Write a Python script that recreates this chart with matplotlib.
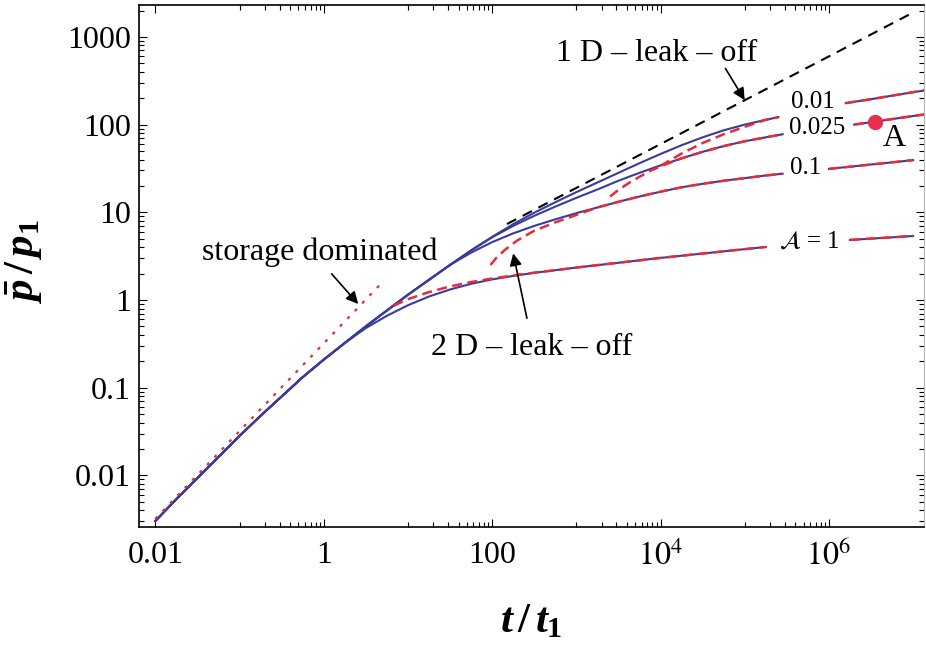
import numpy as np
import matplotlib
matplotlib.use("Agg")
import matplotlib.pyplot as plt
from matplotlib.ticker import FixedLocator, LogLocator, NullFormatter

plt.rcParams['font.family'] = ['Liberation Serif', 'DejaVu Serif']
plt.rcParams['mathtext.fontset'] = 'stix'
# bold serif for the axis titles (drawn with math_fontfamily='custom')
plt.rcParams['mathtext.rm'] = 'Liberation Serif:bold'
plt.rcParams['mathtext.it'] = 'Liberation Serif:italic:bold'
plt.rcParams['mathtext.bf'] = 'Liberation Serif:bold'

nan = np.nan

# log10(t/t1), log10(p/p1) of the full solution for each leak-off parameter A
# (nan leaves the break where the curve label sits)
lt_early = [-2.0, -1.75, -1.5, -1.25, -1.0, -0.75, -0.5, -0.25, 0.0, 0.25]
lp_early = [-2.52, -2.27, -2.03, -1.79, -1.55, -1.32, -1.10, -0.88, -0.68, -0.49]
lt_mid = [0.5, 0.75, 1.0, 1.25, 1.5]
lp_mid = [-0.30, -0.12, 0.06, 0.23, 0.40]

lt_a001 = lt_early + lt_mid + [1.75, 2.0, 2.25, 2.5, 2.75, 3.0, 3.25, 3.5, 3.75, 4.0, 4.25, 4.5, 4.75, 5.0, 5.25, 5.4,
                               5.8, 6.2, 6.5, 6.75, 7.0, 7.25]
lp_a001 = lp_early + lp_mid + [0.565, 0.72, 0.865, 0.995, 1.115, 1.23, 1.34, 1.45, 1.56, 1.665, 1.765, 1.855, 1.935, 2.0, 2.055, 2.085,
                               nan, 2.245, 2.29, 2.33, 2.37, 2.405]

lt_a0025 = lt_early + lt_mid + [1.75, 2.0, 2.25, 2.5, 2.75, 3.0, 3.25, 3.5, 3.75, 4.0, 4.25, 4.5, 4.75, 5.0, 5.25, 5.45,
                                5.9, 6.3, 6.55, 6.8, 7.05, 7.25]
lp_a0025 = lp_early + lp_mid + [0.565, 0.715, 0.845, 0.96, 1.065, 1.165, 1.26, 1.36, 1.45, 1.535, 1.615, 1.69, 1.755, 1.81, 1.855, 1.89,
                                nan, 2.0, 2.035, 2.07, 2.105, 2.13]

lt_a01 = lt_early + lt_mid + [1.75, 2.0, 2.25, 2.5, 2.75, 3.0, 3.25, 3.5, 3.75, 4.0, 4.25, 4.5, 4.75, 5.0, 5.25, 5.45,
                              5.7, 6.0, 6.25, 6.5, 6.75, 7.0]
lp_a01 = lp_early + lp_mid + [0.54, 0.66, 0.76, 0.845, 0.92, 0.99, 1.055, 1.12, 1.18, 1.235, 1.285, 1.325, 1.36, 1.39, 1.42, 1.44,
                              nan, 1.495, 1.52, 1.545, 1.57, 1.595]

lt_a1 = lt_early + [0.5, 0.75, 1.0, 1.25, 1.5, 1.75, 2.0, 2.25, 2.5, 2.75, 3.0, 3.5, 4.0, 4.5, 5.0, 5.25,
                    5.7, 6.25, 6.5, 6.75, 7.0]
lp_a1 = lp_early + [-0.32, -0.18, -0.06, 0.04, 0.12, 0.185, 0.235, 0.275, 0.31, 0.34, 0.37, 0.425, 0.48, 0.53, 0.58, 0.605,
                    nan, 0.685, 0.70, 0.715, 0.73]

# 2D leak-off asymptotes: leading part, afterwards they lie on the full solution
lt_2d_a001 = [4.0, 4.25, 4.5, 4.75, 5.0]
lp_2d_a001 = [1.53, 1.67, 1.79, 1.89, 1.975]
lt_2d_a0025 = [3.40, 3.5, 3.625, 3.75, 3.875, 4.0]
lp_2d_a0025 = [1.18, 1.255, 1.335, 1.405, 1.47, 1.525]
lt_2d_a01 = [1.98, 2.05, 2.15, 2.3, 2.5, 2.75, 3.0]
lp_2d_a01 = [0.40, 0.48, 0.57, 0.68, 0.79, 0.885, 0.97]
lt_2d_a1 = [0.83, 1.0, 1.25, 1.5, 1.75, 2.0, 2.25, 2.5]
lp_2d_a1 = [-0.065, 0.01, 0.09, 0.155, 0.205, 0.245, 0.28, 0.312]

# storage dominated (p ~ t) and 1D leak-off (p ~ t^1/2) asymptotes
storage_t = [0.01, 5.0]
storage_p = [0.0032, 1.6]
oned_t = [150, 1.05e7]
oned_p = [7.35, 1944]

# point A on the A = 0.025 curve
point_t = 3.55e6
point_p = 108

curve_labels = ['0.01', '0.025', '0.1', r'$\mathcal{A}$ = 1']
label_t = [6.5e5, 7.2e5, 5.3e5, 5.8e5]
label_p = [182, 90.8, 31.7, 4.6]

BLUE = '#3b3b9c'
RED = '#e82a3c'

fig = plt.figure(figsize=(9.26, 6.45), dpi=100)
ax = fig.add_axes([0.1501, 0.1829, 0.8477, 0.8088])
ax.set_xscale('log')
ax.set_yscale('log')

full = [(lt_a001, lp_a001), (lt_a0025, lp_a0025), (lt_a01, lp_a01), (lt_a1, lp_a1)]
leads = [(lt_2d_a001, lp_2d_a001), (lt_2d_a0025, lp_2d_a0025),
         (lt_2d_a01, lp_2d_a01), (lt_2d_a1, lp_2d_a1)]

for lt, lp in full:
    ax.plot(10 ** np.array(lt), 10 ** np.array(lp), color=BLUE, lw=1.5, zorder=2)

for (lt, lp), (rt, rp) in zip(full, leads):
    lt = np.array(lt)
    lp = np.array(lp)
    tail = lt > rt[-1]
    t2 = np.concatenate([rt, lt[tail]])
    p2 = np.concatenate([rp, lp[tail]])
    ax.plot(10 ** t2, 10 ** p2, color=RED, lw=1.8, ls=(0, (4, 2.2)), zorder=3)

ax.plot(storage_t, storage_p, color=RED, lw=1.6, ls=(0, (1.4, 3.4)), zorder=3)
ax.plot(oned_t, oned_p, color='black', lw=1.5, ls=(0, (5, 3.5)), zorder=3)
ax.plot([point_t], [point_p], 'o', color='#e8304c', ms=10, zorder=4)

for txt, tx, py in zip(curve_labels, label_t, label_p):
    ax.text(tx, py, txt, fontsize=18, ha='center', va='center', zorder=5)
ax.text(6.0e6, 69.7, 'A', fontsize=23, ha='center', va='center')

arrow = dict(arrowstyle='-|>', color='black', lw=1.2, mutation_scale=18,
             shrinkA=0, shrinkB=0)
ax.text(0.9, 3.55, 'storage dominated', fontsize=23, ha='center', va='center')
ax.annotate('', xy=(2.57, 0.9), xytext=(1.24, 1.99), arrowprops=arrow)
ax.text(9000, 650, '1 D \u2013 leak \u2013 off', fontsize=23, ha='center', va='center')
ax.annotate('', xy=(1.0e5, 190), xytext=(5.9e4, 437), arrowprops=arrow)
ax.text(19, 0.29, '2 D \u2013 leak \u2013 off', fontsize=23, ha='left', va='center')
ax.annotate('', xy=(178, 3.4), xytext=(259, 0.62), arrowprops=arrow)

ax.set_xlim(0.0064, 1.345e7)
ax.set_ylim(0.00258, 2290)

ax.set_xticks([1e-2, 1, 1e2, 1e4, 1e6])
ax.set_xticklabels(['0.01', '1', '100', r'$10^{4}$', r'$10^{6}$'])
ax.xaxis.set_minor_locator(FixedLocator([k * 10.0 ** m for m in (-1, 1, 3, 5) for k in range(1, 10)]))
ax.xaxis.set_minor_formatter(NullFormatter())
ax.set_yticks([0.01, 0.1, 1, 10, 100, 1000])
ax.set_yticklabels(['0.01', '0.1', '1', '10', '100', '1000'])
ax.yaxis.set_minor_locator(LogLocator(base=10, subs=range(2, 10), numticks=20))
ax.yaxis.set_minor_formatter(NullFormatter())

ax.tick_params(which='both', direction='in', top=True, right=True, width=0.8)
ax.tick_params(which='major', length=6, labelsize=23)
ax.tick_params(which='minor', length=3.5)
ax.tick_params(axis='x', pad=10)
ax.tick_params(axis='y', pad=6)

for side in ['left', 'bottom', 'top']:
    ax.spines[side].set_linewidth(1.2)
ax.spines['right'].set_color('#b5b5b5')

ax.set_xlabel(r'$t\,/\,t_1$', fontsize=31, math_fontfamily='custom')
ax.set_ylabel(r'$\bar{p}\,/\,p_1$', fontsize=31, math_fontfamily='custom')
ax.xaxis.set_label_coords(0.5, -0.145)
ax.yaxis.set_label_coords(-0.12, 0.508)

fig.savefig('out.png', dpi=100)
